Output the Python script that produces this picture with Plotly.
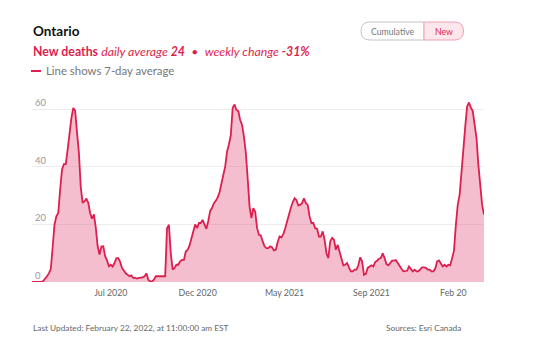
import pandas as pd
import plotly.graph_objects as go

# ---- data: 7-day average new deaths, Ontario, one value every 3 days from 2020-03-01 ----
start_date = "2020-03-01"
step_days = 3
deaths_avg = [
    0, 0, 0, 0, 0, 0, 0.3, 1, 2, 3, 4.5, 12, 20, 22.8, 24, 32, 39, 41, 41, 46,
    52, 57, 60.5, 59.5, 52, 45, 33, 27.5, 28, 29, 27.5, 24, 22, 23.5, 19, 12.5, 9.5, 12.3, 12.4, 9,
    7.5, 5.5, 6, 5.4, 6.6, 8.3, 8.3, 7, 4.9, 3.7, 3, 2.5, 2, 2.3, 1.4, 1.4, 1.2, 1.4, 1.4, 1.6,
    2, 3, 0.8, 0.2, 0.2, 0.8, 2, 2, 2, 2, 2, 2, 18.7, 19.9, 10, 4.3, 4.9, 6, 6, 7.2,
    7.7, 7.7, 10.6, 11.2, 12.7, 15.3, 17.8, 20, 18.7, 20.5, 20.5, 21.6, 19.9, 18.5, 21.3, 24.7, 25.7, 27.4, 28.2, 29.4,
    31.2, 34.9, 37.2, 40.1, 45.3, 47.9, 51, 60.6, 61.7, 59.8, 59.4, 56.3, 54.6, 50.5, 45, 36, 26.2, 22.2, 25.7, 24.5,
    18.7, 16.4, 16.2, 14.1, 12.4, 11.8, 11.8, 12.4, 12, 11, 11.2, 13.9, 15.8, 15.5, 16.6, 18.7, 21.3, 23.9, 25.7, 27.7,
    29.1, 28.5, 26.6, 26.8, 27.4, 29.1, 27.4, 26.8, 22.8, 20.5, 20.5, 18.7, 18.5, 15.8, 15.8, 17.6, 14.7, 10, 8.3, 14.1,
    15.3, 14.7, 11.2, 12.9, 10.6, 8.3, 5.8, 6, 6.6, 5.1, 3.7, 3.7, 4.3, 4.3, 5.8, 8.6, 7.2, 2.5, 2.8, 4.9,
    5.4, 5.8, 5.4, 6.9, 7.4, 8.1, 8.3, 10, 8.3, 6.2, 5.8, 6.6, 7.4, 7.4, 7.6, 6.6, 5.4, 4.6, 3.7, 3.7,
    3.9, 5.4, 4.3, 3.7, 4.3, 3.7, 3.7, 4.3, 5.1, 5.1, 4.9, 4.3, 4.3, 3.7, 3.7, 4.6, 7.2, 7.5, 6.4, 5.4,
    6, 5.4, 6, 5.8, 8.3, 10.9, 19.9, 26.8, 30.3, 38.4, 48.2, 54, 61, 62.4, 60.6, 59.4, 54.8, 50, 40.7, 34.4,
    26.8, 23.4,
]
dates = pd.date_range(start_date, periods=len(deaths_avg), freq=f"{step_days}D")

tick_dates = ["2020-07-05", "2020-11-21", "2021-04-09", "2021-08-26", "2022-01-04"]
tick_labels = ["Jul 2020", "Dec 2020", "May 2021", "Sep 2021", "Feb 20"]
y_ticks = [0, 20, 40, 60]

title_text = "Ontario"
metric_name = "New deaths"
daily_average = 24
weekly_change = "-31%"
legend_text = "Line shows 7-day average"
updated_text = "Last Updated: February 22, 2022, at 11:00:00 am EST"
source_text = "Sources: Esri Canada"

RED = "#dc1f4f"
FILL = "rgba(233, 110, 146, 0.45)"
FONT = "Lato"

W, H = 547, 351
ML, MR, MT, MB = 32, 63, 95, 69
PW, PH = W - ML - MR, H - MT - MB


def px(x):
    return (x - ML) / PW


def py(y):
    return (H - MB - y) / PH


fig = go.Figure()
fig.add_trace(go.Scatter(
    x=dates, y=deaths_avg, mode="lines",
    line=dict(color=RED, width=1.8, shape="linear"),
    fill="tozeroy", fillcolor=FILL, hoverinfo="skip",
))


def rounded_path(x0, x1, y0, y1, r, left=True, right=True):
    pts = []
    if left:
        pts.append(f"M {px(x0 + r)},{py(y0)}")
    else:
        pts.append(f"M {px(x0)},{py(y0)}")
    if right:
        pts.append(f"L {px(x1 - r)},{py(y0)}")
        pts.append(f"Q {px(x1)},{py(y0)} {px(x1)},{py(y0 + r)}")
        pts.append(f"Q {px(x1)},{py(y1)} {px(x1 - r)},{py(y1)}")
    else:
        pts.append(f"L {px(x1)},{py(y0)}")
        pts.append(f"L {px(x1)},{py(y1)}")
    if left:
        pts.append(f"L {px(x0 + r)},{py(y1)}")
        pts.append(f"Q {px(x0)},{py(y1)} {px(x0)},{py(y0 + r)}")
        pts.append(f"Q {px(x0)},{py(y0)} {px(x0 + r)},{py(y0)}")
    else:
        pts.append(f"L {px(x0)},{py(y1)}")
    pts.append("Z")
    return " ".join(pts)


shapes = [
    dict(type="path", xref="paper", yref="paper",
         path=rounded_path(361, 424, 22, 40, 9, left=True, right=False),
         fillcolor="white", line=dict(color="#c4c4c4", width=1), layer="above"),
    dict(type="path", xref="paper", yref="paper",
         path=rounded_path(424, 463.5, 22, 40, 9, left=False, right=True),
         fillcolor="#fde6ec", line=dict(color="#efa1b5", width=1), layer="above"),
    # red legend dash
    dict(type="line", xref="paper", yref="paper",
         x0=px(31), x1=px(41), y0=py(71), y1=py(71),
         line=dict(color=RED, width=2), layer="above"),
]

annotations = [
    dict(x=px(31), y=py(31.5), xref="paper", yref="paper", xanchor="left", yanchor="middle",
         text=f"<b>{title_text}</b>", showarrow=False,
         font=dict(family=FONT, size=13.5, color="#111111")),
    dict(x=px(31), y=py(52), xref="paper", yref="paper", xanchor="left", yanchor="middle",
         text=(f"<b>{metric_name}</b> <i>daily average <b>{daily_average}</b></i>"
               f"  •  <i>weekly change <b>{weekly_change}</b></i>"),
         showarrow=False, font=dict(family=FONT, size=12.3, color=RED)),
    dict(x=px(44), y=py(71), xref="paper", yref="paper", xanchor="left", yanchor="middle",
         text=legend_text,
         showarrow=False, font=dict(family=FONT, size=11.4, color="#777777")),
    dict(x=px(392.5), y=py(31), xref="paper", yref="paper", xanchor="center", yanchor="middle",
         text="Cumulative", showarrow=False, font=dict(family=FONT, size=8.7, color="#777777")),
    dict(x=px(443.5), y=py(31), xref="paper", yref="paper", xanchor="center", yanchor="middle",
         text="New", showarrow=False, font=dict(family=FONT, size=8.7, color=RED)),
    dict(x=px(31), y=py(328), xref="paper", yref="paper", xanchor="left", yanchor="middle",
         text=updated_text, showarrow=False, font=dict(family=FONT, size=8.3, color="#666666")),
    dict(x=px(463), y=py(328), xref="paper", yref="paper", xanchor="right", yanchor="middle",
         text=source_text, showarrow=False, font=dict(family=FONT, size=8.3, color="#666666")),
]

fig.update_layout(
    width=W, height=H,
    margin=dict(l=ML, r=MR, t=MT, b=MB, pad=0),
    paper_bgcolor="white", plot_bgcolor="white",
    showlegend=False, hovermode=False,
    shapes=shapes, annotations=annotations,
    xaxis=dict(
        type="date", range=[dates[0], dates[-1]],
        tickvals=tick_dates, ticktext=tick_labels,
        showgrid=False, zeroline=False, showline=False, ticks="",
        ticklabelstandoff=4,
        tickfont=dict(family=FONT, size=8.8, color="#666666"),
        fixedrange=True,
    ),
    yaxis=dict(
        range=[0, 65], tickvals=y_ticks,
        showgrid=True, gridcolor="#ececec", gridwidth=1,
        zeroline=False, showline=False, ticks="",
        ticklabelposition="inside top", ticklabeloverflow="allow",
        tickfont=dict(family=FONT, size=9.5, color="#999999"),
        fixedrange=True,
    ),
)

fig.write_html("out.html", config={"displayModeBar": False})
